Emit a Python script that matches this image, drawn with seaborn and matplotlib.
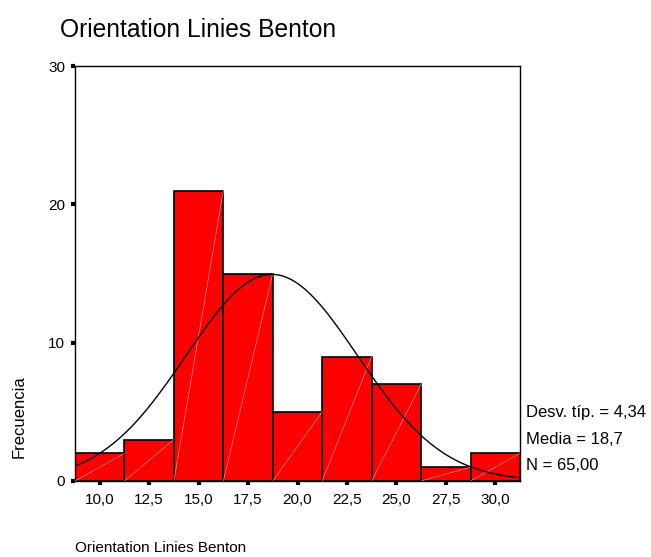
import numpy as np
import pandas as pd
import matplotlib
matplotlib.use("Agg")
import matplotlib.pyplot as plt
import seaborn as sns

# Data
bin_centers = [10.0, 12.5, 15.0, 17.5, 20.0, 22.5, 25.0, 27.5, 30.0]
counts = [2, 3, 21, 15, 5, 9, 7, 1, 2]
tick_labels = ["10,0", "12,5", "15,0", "17,5", "20,0", "22,5", "25,0", "27,5", "30,0"]
y_ticks = [0, 10, 20, 30]
std_dev = 4.34
mean = 18.7
n_total = 65
title = "Orientation Linies Benton"
stats_lines = ["Desv. típ. = 4,34", "Media = 18,7", "N = 65,00"]

sns.set_theme(style="white")
plt.rcParams['font.family'] = ['Liberation Sans', 'DejaVu Sans']
plt.rcParams['text.color'] = 'black'
plt.rcParams['xtick.color'] = 'black'
plt.rcParams['ytick.color'] = 'black'

fig = plt.figure(figsize=(6.51, 5.57), dpi=100)
ax = fig.add_axes([75/651, 1 - 481/557, (520-75)/651, (481-66)/557])

width = 2.5
edges = [c - width/2 for c in bin_centers] + [bin_centers[-1] + width/2]
df = pd.DataFrame({"x": bin_centers, "w": counts})
sns.histplot(data=df, x="x", weights="w", bins=edges, ax=ax,
             color="#FF0000", edgecolor="black", linewidth=1.2, alpha=1.0)

# faint diagonal render lines inside each bar
for c, h in zip(bin_centers, counts):
    ax.plot([c - width/2, c + width/2], [0, h], color="#ffb0b0", linewidth=0.4, zorder=3)

# Normal curve
xs = np.linspace(edges[0], edges[-1], 300)
ys = n_total * width / (std_dev * np.sqrt(2*np.pi)) * np.exp(-0.5*((xs-mean)/std_dev)**2)
sns.lineplot(x=xs, y=ys, ax=ax, color="black", linewidth=1.0, zorder=4)

ax.set_xlim(edges[0], edges[-1])
ax.set_ylim(0, 30)
ax.set_xticks(bin_centers)
ax.set_xticklabels(tick_labels, fontsize=11)
ax.set_yticks(y_ticks)
ax.set_yticklabels([str(v) for v in y_ticks], fontsize=11)
ax.tick_params(axis='both', bottom=True, left=True, direction='out',
               length=3, width=3, color='black', labelcolor='black')
ax.tick_params(axis='x', pad=6)
ax.tick_params(axis='y', pad=4)
for s in ax.spines.values():
    s.set_color("black")
    s.set_linewidth(1.0)
ax.set_xlabel("")
ax.set_ylabel("")

fig.text(60/651, 1 - 30/557, title, fontsize=17.7, ha="left", va="center")
fig.text(75/651, 1 - 548/557, title, fontsize=11, ha="left", va="center")
fig.text(19/651, 1 - 417/557, "Frecuencia", fontsize=12, rotation=90, ha="center", va="center")
for txt, yy in zip(stats_lines, [413, 439, 465]):
    fig.text(526/651, 1 - yy/557, txt, fontsize=12, ha="left", va="center")

fig.savefig("out.png", dpi=100)
